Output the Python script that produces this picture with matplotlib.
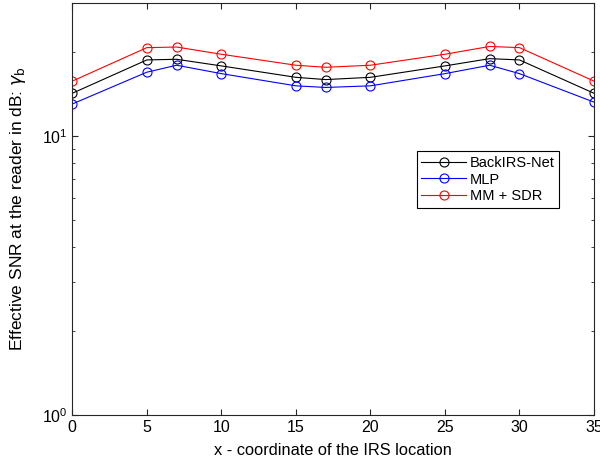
import matplotlib
matplotlib.use('Agg')
import matplotlib.pyplot as plt
from matplotlib.ticker import LogLocator, NullFormatter, FixedLocator

plt.rcParams['font.family'] = ['Liberation Sans', 'DejaVu Sans']
plt.rcParams['mathtext.fontset'] = 'dejavusans'

x_pos = [0, 5, 7, 10, 15, 17, 20, 25, 28, 30, 35]
backirs_net = [14.2, 18.7, 18.8, 17.8, 16.2, 15.9, 16.2, 17.8, 18.9, 18.7, 14.2]
mlp = [13.0, 16.9, 17.9, 16.7, 15.1, 14.9, 15.1, 16.7, 17.9, 16.7, 13.2]
mm_sdr = [15.7, 20.7, 20.8, 19.6, 17.9, 17.6, 17.9, 19.6, 20.9, 20.7, 15.7]

fig = plt.figure(figsize=(6, 4.69), dpi=100)
ax = fig.add_axes([0.1205, 0.1158, 0.8695, 0.8785])

style = dict(marker='o', markerfacecolor='none', markersize=6.5, linewidth=0.8, markeredgewidth=0.8)
ax.plot(x_pos, backirs_net, color='black', label='BackIRS-Net', **style)
ax.plot(x_pos, mlp, color='blue', label='MLP', **style)
ax.plot(x_pos, mm_sdr, color='red', label='MM + SDR', **style)

ax.set_yscale('log')
ax.set_xlim(0, 35)
ax.set_ylim(1, 30)
ax.set_xticks(range(0, 36, 5))
ax.yaxis.set_major_locator(FixedLocator([1, 10]))
ax.yaxis.set_minor_locator(LogLocator(base=10, subs=range(2, 10)))
ax.yaxis.set_minor_formatter(NullFormatter())

ax.tick_params(which='both', direction='in', top=True, right=True,
               colors='#262626', labelcolor='black', labelsize=11.5)
ax.tick_params(which='major', length=4)
ax.tick_params(which='minor', length=2.5)
for sp in ax.spines.values():
    sp.set_color('#262626')
    sp.set_linewidth(0.8)

ax.set_xlabel('x - coordinate of the IRS location', fontsize=11.8, labelpad=6)
ax.set_ylabel(r'Effective SNR at the reader in dB: $\gamma_\mathrm{b}$', fontsize=12.5, labelpad=10)

leg = ax.legend(loc='lower left', bbox_to_anchor=(0.66, 0.502), fontsize=10.5,
                fancybox=False, framealpha=1, edgecolor='black',
                handlelength=3.1, borderpad=0.3, labelspacing=0.2,
                handletextpad=0.25, borderaxespad=0)
leg.get_frame().set_linewidth(0.8)

fig.savefig('out.png', dpi=100)
